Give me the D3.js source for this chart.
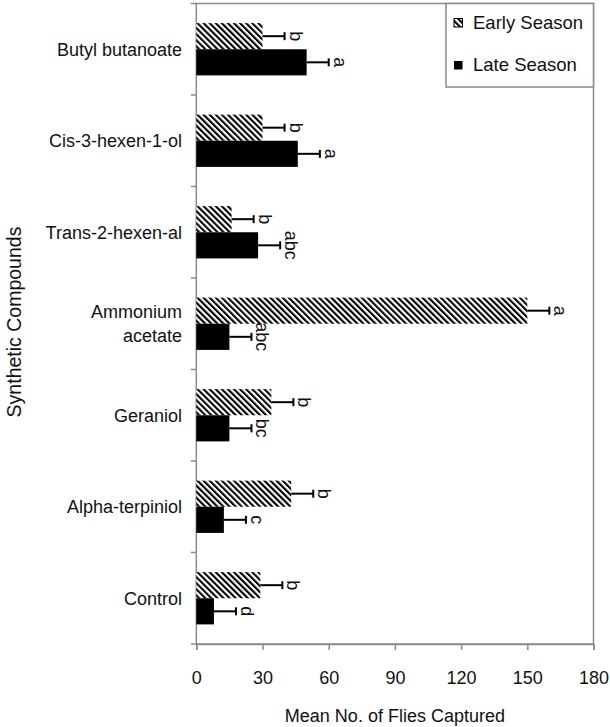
<!DOCTYPE html>
<html>
<head>
<meta charset="utf-8">
<script src="https://cdn.jsdelivr.net/npm/d3@7"></script>
<style>
  html, body { margin: 0; padding: 0; background: #fff; }
  svg { display: block; font-family: "Liberation Sans", Arial, Helvetica, sans-serif; }
</style>
</head>
<body>
<svg id="chart" width="610" height="727"></svg>
<script>
// Mean number of flies captured per synthetic compound, early vs late season
const categories = ["Butyl butanoate", "Cis-3-hexen-1-ol", "Trans-2-hexen-al",
  "Ammonium\nacetate", "Geraniol", "Alpha-terpiniol", "Control"];
const earlyValues = [30, 30, 16, 150, 34, 43, 29];
const earlyErrors = [10, 10, 10, 10, 10, 10, 10];
const lateValues  = [50, 46, 28, 15, 15, 12.5, 8];
const lateErrors  = [10, 10, 10, 10, 10, 10, 10];
const earlyLetters = ["b", "b", "b", "a", "b", "b", "b"];
const lateLetters  = ["a", "a", "abc", "abc", "bc", "c", "d"];
const seriesNames = ["Early Season", "Late Season"];
const xTicks = [0, 30, 60, 90, 120, 150, 180];

const svg = d3.select("#chart");
const plot = { left: 196.3, right: 593.5, top: 3.5, bottom: 644 };
const axisColor = "#8a8a8a";
const fs = 18;

const x = d3.scaleLinear().domain([0, 180]).range([plot.left, plot.right]);
const y = d3.scaleBand().domain(categories).range([plot.top, plot.bottom]);
const sub = d3.scaleBand().domain(["early", "late"]).range([0, y.bandwidth()])
  .paddingInner(0).paddingOuter(0.75);

// diagonal hatch for the early-season bars
const defs = svg.append("defs");
const pat = defs.append("pattern")
  .attr("id", "hatch")
  .attr("patternUnits", "userSpaceOnUse")
  .attr("width", 4.3).attr("height", 4.3)
  .attr("patternTransform", "rotate(-45)");
pat.append("rect").attr("width", 4.3).attr("height", 4.3).attr("fill", "#fff");
pat.append("rect").attr("width", 2.1).attr("height", 4.3).attr("fill", "#000");

// plot frame
svg.append("rect")
  .attr("x", plot.left).attr("y", plot.top)
  .attr("width", plot.right - plot.left).attr("height", plot.bottom - plot.top)
  .attr("fill", "none").attr("stroke", axisColor).attr("stroke-width", 1.5);

// bottom axis
const xAxis = svg.append("g")
  .attr("transform", `translate(0,${plot.bottom})`)
  .call(d3.axisBottom(x).tickValues(xTicks).tickSize(6).tickPadding(21));
xAxis.select(".domain").attr("stroke", axisColor).attr("stroke-width", 1.5);
xAxis.selectAll(".tick line").attr("stroke", axisColor).attr("stroke-width", 1.5);
xAxis.selectAll(".tick text").attr("font-size", fs).attr("fill", "#111")
  .attr("font-family", "Liberation Sans, Arial, sans-serif");

// left axis: ticks at category boundaries
const boundaries = categories.map(c => y(c)).concat([plot.bottom]);
svg.append("g").selectAll("line").data(boundaries).join("line")
  .attr("x1", plot.left - 5.5).attr("x2", plot.left)
  .attr("y1", d => d).attr("y2", d => d)
  .attr("stroke", axisColor).attr("stroke-width", 1.5);

// category labels
const catG = svg.append("g");
categories.forEach(c => {
  const lines = c.split("\n");
  const cy = y(c) + y.bandwidth() / 2;
  const lh = 24;
  const t = catG.append("text")
    .attr("text-anchor", "end")
    .attr("font-size", fs).attr("fill", "#111");
  lines.forEach((ln, i) => {
    t.append("tspan")
      .attr("x", 182)
      .attr("y", cy + (i - (lines.length - 1) / 2) * lh)
      .attr("dy", "0.35em")
      .text(ln);
  });
});

// bars, error bars and significance letters
const rows = categories.map((c, i) => ({
  cat: c,
  series: [
    { key: "early", v: earlyValues[i], e: earlyErrors[i], letter: earlyLetters[i] },
    { key: "late", v: lateValues[i], e: lateErrors[i], letter: lateLetters[i] }
  ]
}));

const groups = svg.append("g").selectAll("g").data(rows).join("g")
  .attr("transform", d => `translate(0,${y(d.cat)})`);

const items = groups.selectAll("g").data(d => d.series).join("g");

items.append("rect")
  .attr("x", x(0))
  .attr("y", d => sub(d.key))
  .attr("width", d => x(d.v) - x(0))
  .attr("height", sub.bandwidth())
  .attr("fill", d => d.key === "early" ? "url(#hatch)" : "#000");

items.append("line")
  .attr("x1", d => x(d.v)).attr("x2", d => x(d.v + d.e))
  .attr("y1", d => sub(d.key) + sub.bandwidth() / 2)
  .attr("y2", d => sub(d.key) + sub.bandwidth() / 2)
  .attr("stroke", "#000").attr("stroke-width", 2);

items.append("line")
  .attr("x1", d => x(d.v + d.e)).attr("x2", d => x(d.v + d.e))
  .attr("y1", d => sub(d.key) + sub.bandwidth() / 2 - 4)
  .attr("y2", d => sub(d.key) + sub.bandwidth() / 2 + 4)
  .attr("stroke", "#000").attr("stroke-width", 2);

items.append("text")
  .attr("transform", d => `translate(${x(d.v + d.e) + 5},${sub(d.key) + sub.bandwidth() / 2}) rotate(90)`)
  .attr("text-anchor", "middle")
  .attr("font-size", fs).attr("fill", "#111")
  .text(d => d.letter);

// legend
const lg = svg.append("g");
lg.append("rect")
  .attr("x", 446).attr("y", plot.top)
  .attr("width", plot.right - 446).attr("height", 87 - plot.top)
  .attr("fill", "#fff").attr("stroke", axisColor).attr("stroke-width", 1.5);
seriesNames.forEach((name, i) => {
  const yy = 22.5 + i * 42.5;
  lg.append("rect")
    .attr("x", 454).attr("y", yy - 4)
    .attr("width", 8.5).attr("height", 8.5)
    .attr("fill", i === 0 ? "url(#hatch)" : "#000")
    .attr("stroke", "#000").attr("stroke-width", i === 0 ? 1 : 0);
  lg.append("text")
    .attr("x", 473).attr("y", yy)
    .attr("dy", "0.35em")
    .attr("font-size", 18.5).attr("fill", "#111")
    .text(name);
});

// axis titles
svg.append("text")
  .attr("x", (plot.left + plot.right) / 2).attr("y", 722)
  .attr("text-anchor", "middle")
  .attr("font-size", fs).attr("fill", "#111")
  .text("Mean No. of Flies Captured");

svg.append("text")
  .attr("transform", `translate(21,322) rotate(-90)`)
  .attr("text-anchor", "middle")
  .attr("font-size", 19.5).attr("fill", "#111")
  .text("Synthetic Compounds");
</script>
</body>
</html>
